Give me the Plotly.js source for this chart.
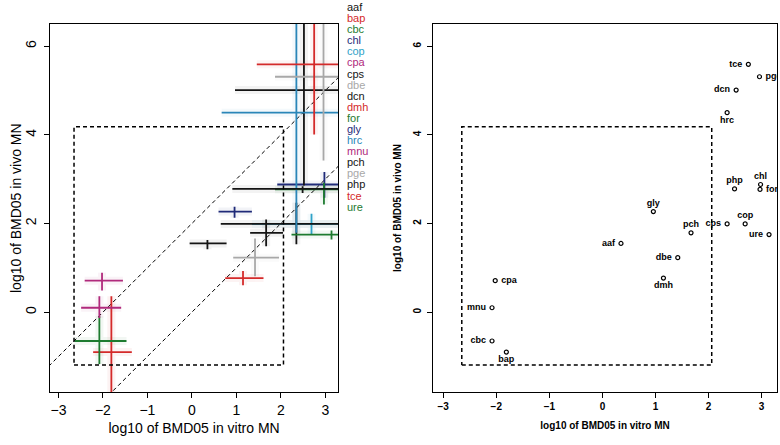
<!DOCTYPE html>
<html><head><meta charset="utf-8">
<script src="https://cdn.plot.ly/plotly-3.0.1.min.js"></script>
<style>body{margin:0;background:#fff}#chart{width:780px;height:445px}</style>
</head><body><div id="chart"></div>
<script>
// ---- data ----
const compounds = ['aaf','bap','cbc','chl','cop','cpa','cps','dbe','dcn','dmh','for','gly','hrc','mnu','pch','pge','php','tce','ure'];
const inVitro   = [0.35,-1.81,-2.08,2.98,2.69,-2.02,2.35,1.42,2.52,1.15,2.97,0.96,2.35,-2.08,1.67,2.96,2.49,2.75,3.14];
const inVivo    = [1.55,-0.90,-0.65,2.88,1.99,0.71,1.99,1.23,5.01,0.77,2.77,2.27,4.50,0.10,1.79,5.31,2.78,5.59,1.75];
const inVitroLow  = [-0.05,-2.22,-2.64,1.92,1.35,-2.41,0.65,0.93,0.97,0.75,1.87,0.60,0.67,-2.49,1.31,1.87,0.91,1.46,2.24];
const inVitroHigh = [0.78,-1.35,-1.47,3.9,3.8,-1.55,3.7,1.96,3.9,1.61,3.8,1.35,3.9,-1.59,2.05,3.9,3.8,3.9,3.9];
const inVivoLow   = [1.42,-2.4,-1.17,2.58,1.75,0.49,1.53,0.81,2.86,0.61,2.43,2.13,1.79,-0.13,1.49,3.42,2.69,4.01,1.64];
const inVivoHigh  = [1.63,0.36,-0.09,3.16,2.22,0.89,2.47,1.66,7.2,0.93,2.92,2.38,7.0,0.36,2.09,7.1,2.84,7.3,1.84];
const boxVitro = [-2.65, 2.06];
const boxVivo  = [-1.19, 4.18];
const diagOffsets = [2, 0];
const xTicks = [-3,-2,-1,0,1,2,3];
const yTicks = [0,2,4,6];
const xTitle = 'log10 of BMD05 in vitro MN';
const yTitle = 'log10 of BMD05 in vivo MN';

// ---- styles ----
const colors = ['#141414','#d42a2a','#1e7b30','#1f2a78','#2ea2c8','#b02a7c','#141414','#a8a8a8','#141414','#d42a2a','#1e7b30','#1f2a78','#2a86b8','#b02a7c','#141414','#a8a8a8','#141414','#d42a2a','#1e7b30'];
const labelPos = ['middle left','bottom center','middle left','top center','top center','middle right','middle left','middle left','middle left','bottom center','middle right','top center','bottom center','middle left','top center','middle right','top center','middle left','middle left'];
const FONT = 'Liberation Sans, Arial, Helvetica, sans-serif';
const NB = '\u00a0';
const labelText = compounds.map((c,i)=> labelPos[i]==='middle left' ? c+NB : labelPos[i]==='middle right' ? NB+c : c);

const traces = [];
// shading behind crosses
compounds.forEach((c,i)=>{
  traces.push({x:[inVitroLow[i],inVitroHigh[i],null,inVitro[i],inVitro[i]],
               y:[inVivo[i],inVivo[i],null,inVivoLow[i],inVivoHigh[i]],
               mode:'lines',line:{color:colors[i],width:8},opacity:0.05,
               xaxis:'x',yaxis:'y',hoverinfo:'skip'});
});
// diagonals
diagOffsets.forEach(c=>{
  traces.push({x:[-4,4],y:[-4+c,4+c],mode:'lines',line:{color:'#000',width:1,dash:'4px,3px'},xaxis:'x',yaxis:'y',hoverinfo:'skip'});
});
// crosses
compounds.forEach((c,i)=>{
  traces.push({x:[inVitroLow[i],inVitroHigh[i],null,inVitro[i],inVitro[i]],
               y:[inVivo[i],inVivo[i],null,inVivoLow[i],inVivoHigh[i]],
               mode:'lines',line:{color:colors[i],width:1.8},name:c,
               xaxis:'x',yaxis:'y'});
});
// dashed boxes on both panels
[['x','y'],['x2','y2']].forEach(([xa,ya])=>{
  traces.push({x:[boxVitro[0],boxVitro[1],boxVitro[1],boxVitro[0],boxVitro[0]],
               y:[boxVivo[0],boxVivo[0],boxVivo[1],boxVivo[1],boxVivo[0]],
               mode:'lines',line:{color:'#000',width:1.5,dash:'4px,3px'},xaxis:xa,yaxis:ya,hoverinfo:'skip'});
});
// right panel points
traces.push({x:inVitro,y:inVivo,text:labelText,mode:'markers+text',textposition:labelPos,
  textfont:{family:FONT,size:9,color:'#000',weight:'bold'},
  marker:{symbol:'circle-open',size:4,color:'#000',line:{width:1.2,color:'#000'}},
  cliponaxis:true,xaxis:'x2',yaxis:'y2'});

// legend as text
const legTop = 6.7, legStep = 11.1, plotTop = 23.8, plotH = 368.0, plotL = 50, plotW = 727.3;
const annotations = compounds.map((c,i)=>({
  text:c, x:(345-plotL)/plotW, y:1-((legTop+i*legStep)-plotTop)/plotH,
  xref:'paper', yref:'paper', xanchor:'left', yanchor:'middle', showarrow:false,
  font:{family:FONT,size:11,color:colors[i]}
}));
// left panel y-axis title
annotations.push({text:yTitle, x:(16-plotL)/plotW, y:0.5, xref:'paper', yref:'paper',
  xanchor:'center', yanchor:'middle', textangle:-90, showarrow:false, font:{family:FONT,size:14,color:'#000'}});

const axBase = {showgrid:false,zeroline:false,showline:true,mirror:true,linecolor:'#000',linewidth:1.2,
  ticks:'outside',ticklen:5,tickwidth:1,tickcolor:'#000',automargin:false};

const layout = {
  width:780,height:445,margin:{l:plotL,r:780-plotL-plotW,t:plotTop,b:445-plotTop-plotH},
  paper_bgcolor:'#fff',plot_bgcolor:'#fff',showlegend:false,font:{family:FONT,color:'#000'},
  xaxis:Object.assign({},axBase,{domain:[0,0.3964],range:[-3.19,3.29],tickvals:xTicks,
     tickfont:{size:14},title:{text:xTitle,font:{size:14},standoff:6}}),
  yaxis:Object.assign({},axBase,{domain:[0,1],range:[-1.80,6.50],tickvals:yTicks,tickangle:-90,ticklabelstandoff:2,
     tickfont:{size:14}}),
  xaxis2:Object.assign({},axBase,{domain:[0.527,1],range:[-3.19,3.29],tickvals:xTicks,anchor:'y2',
     tickfont:{size:10,weight:'bold'},title:{text:xTitle,font:{size:10,weight:'bold'},standoff:10}}),
  yaxis2:Object.assign({},axBase,{domain:[0,1],range:[-1.80,6.50],tickvals:yTicks,tickangle:-90,anchor:'x2',ticklabelstandoff:2,
     tickfont:{size:10,weight:'bold'},title:{text:yTitle,font:{size:10,weight:'bold'},standoff:8}}),
  annotations:annotations
};
Plotly.newPlot('chart',traces,layout,{displayModeBar:false,staticPlot:true});
</script></body></html>
